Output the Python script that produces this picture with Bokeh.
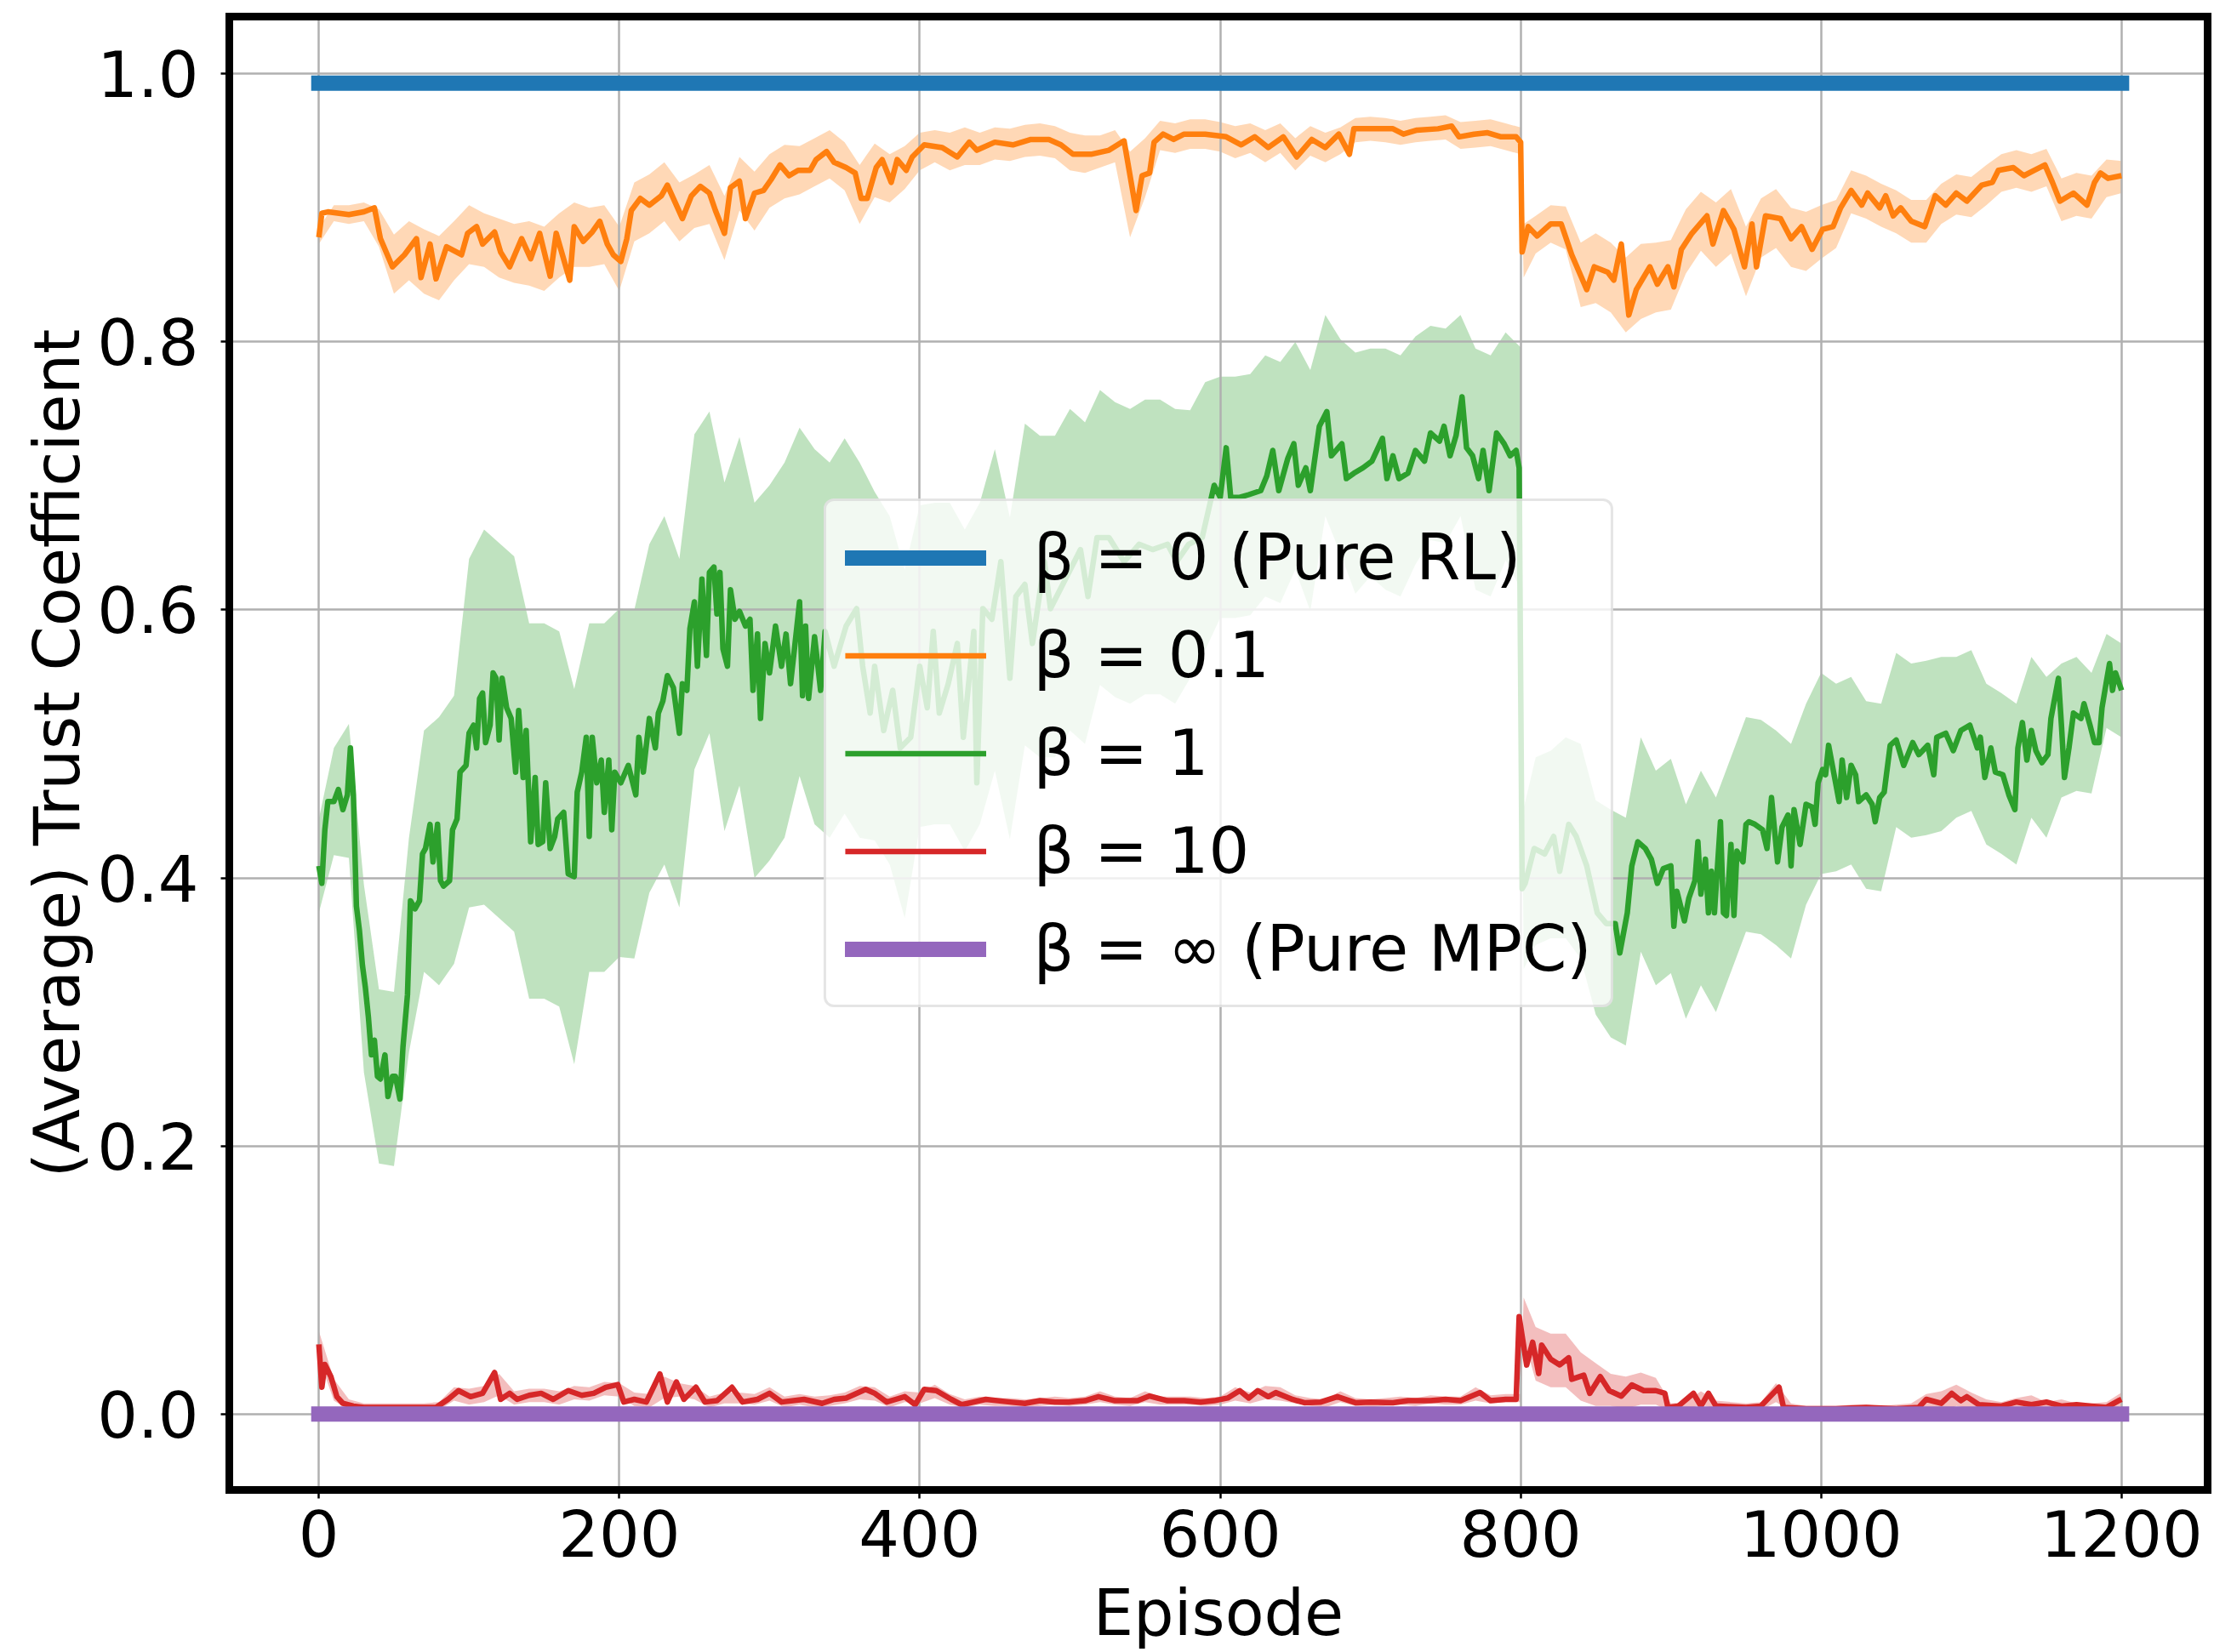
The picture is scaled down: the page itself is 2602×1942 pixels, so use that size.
import numpy as np
from bokeh.plotting import figure
from bokeh.models import (Range1d, Legend, LegendItem, PrintfTickFormatter,
                          FixedTicker, LinearAxis)
from bokeh.embed import file_html
from bokeh.resources import INLINE

# ---------------- data ----------------
x_ticks = [0, 200, 400, 600, 800, 1000, 1200]
y_ticks = [0.0, 0.2, 0.4, 0.6, 0.8, 1.0]

labels = ["β = 0 (Pure RL)", "β = 0.1", "β = 1", "β = 10", "β = ∞ (Pure MPC)"]
x_label = "Episode"
y_label = "(Average) Trust Coefficient"

rl_episodes = [0, 1200]
rl_values = [0.993, 0.993]
mpc_episodes = [0, 1200]
mpc_values = [0.0, 0.0]

# mean curves (episode, value)
beta01_ep = [
    0, 2, 6, 20, 30, 37, 41, 49, 57, 65, 68, 74, 78, 85, 95, 99, 105, 109, 117, 121,
    127, 135, 141, 147, 154, 158, 167, 170, 176, 182, 187, 192, 196, 201, 205, 208,
    214, 220, 228, 232, 238, 242, 248, 254, 260, 264, 270, 274, 280, 284, 290, 296,
    301, 307, 313, 319, 327, 331, 338, 343, 351, 357, 361, 365, 371, 375, 381, 385,
    391, 395, 403, 415, 425, 433, 438, 450, 462, 474, 486, 494, 502, 514, 526, 536,
    544, 548, 553, 556, 562, 569, 576, 590, 604, 614, 623, 632, 642, 651, 661, 670,
    679, 686, 689, 703, 715, 722, 731, 745, 754, 759, 769, 778, 787, 797, 800, 801,
    805, 811, 820, 827, 834, 839, 844, 849, 858, 862, 867, 872, 877, 886, 891, 898,
    902, 907, 914, 924, 928, 935, 942, 949, 954, 957, 963, 973, 980, 987, 994, 1001,
    1008, 1013, 1020, 1027, 1031, 1039, 1043, 1048, 1053, 1060, 1069, 1076, 1083,
    1090, 1097, 1107, 1114, 1118, 1128, 1135, 1142, 1149, 1154, 1159, 1168, 1177,
    1182, 1186, 1191, 1200,
]
beta01_line = [
    0.878, 0.896, 0.897, 0.895, 0.897, 0.900, 0.877, 0.856, 0.865, 0.877, 0.848, 0.873,
    0.847, 0.871, 0.865, 0.881, 0.886, 0.873, 0.882, 0.867, 0.856, 0.877, 0.862, 0.881,
    0.849, 0.881, 0.846, 0.886, 0.875, 0.882, 0.890, 0.873, 0.865, 0.860, 0.877, 0.898,
    0.907, 0.902, 0.909, 0.917, 0.902, 0.892, 0.909, 0.916, 0.911, 0.898, 0.881, 0.915,
    0.920, 0.892, 0.911, 0.913, 0.921, 0.932, 0.924, 0.928, 0.928, 0.936, 0.942, 0.934,
    0.930, 0.926, 0.907, 0.907, 0.930, 0.936, 0.919, 0.936, 0.928, 0.938, 0.947, 0.945,
    0.938, 0.949, 0.943, 0.949, 0.947, 0.951, 0.951, 0.947, 0.940, 0.940, 0.943, 0.950,
    0.898, 0.924, 0.926, 0.949, 0.955, 0.951, 0.955, 0.955, 0.953, 0.947, 0.953, 0.945,
    0.953, 0.938, 0.951, 0.945, 0.955, 0.940, 0.959, 0.959, 0.959, 0.955, 0.958, 0.959,
    0.961, 0.953, 0.955, 0.956, 0.953, 0.953, 0.949, 0.867, 0.886, 0.879, 0.888, 0.888,
    0.865, 0.852, 0.839, 0.856, 0.852, 0.846, 0.873, 0.820, 0.839, 0.856, 0.843, 0.856,
    0.841, 0.869, 0.881, 0.894, 0.873, 0.898, 0.884, 0.856, 0.888, 0.856, 0.894, 0.892,
    0.877, 0.886, 0.869, 0.884, 0.886, 0.900, 0.913, 0.902, 0.911, 0.900, 0.909, 0.894,
    0.900, 0.890, 0.886, 0.909, 0.902, 0.911, 0.905, 0.917, 0.919, 0.928, 0.930, 0.924,
    0.928, 0.932, 0.919, 0.905, 0.911, 0.902, 0.919, 0.926, 0.922, 0.924,
]

beta1_ep = [
    0, 2, 4, 6, 10, 13, 16, 19, 21, 23, 25, 27, 29, 31, 33, 35, 37, 39, 41, 44, 46, 49,
    51, 54, 56, 59, 61, 64, 67, 69, 71, 74, 76, 79, 81, 83, 87, 89, 92, 94, 98, 100,
    103, 105, 107, 109, 111, 114, 116, 118, 120, 122, 125, 128, 131, 133, 136, 138,
    141, 144, 146, 149, 151, 154, 157, 159, 163, 166, 170, 172, 175, 178, 180, 182,
    185, 188, 190, 193, 195, 197, 201, 206, 211, 213, 216, 220, 224, 226, 229, 232,
    236, 240, 242, 245, 247, 250, 252, 255, 258, 260, 263, 265, 267, 269, 272, 274,
    277, 280, 284, 287, 289, 292, 294, 297, 300, 304, 308, 311, 314, 317, 320, 322,
    324, 326, 330, 334, 337, 343, 351, 358, 362, 367, 370, 376, 382, 387, 394, 400,
    405, 409, 413, 419, 425, 429, 436, 438, 442, 448, 454, 460, 464, 470, 475, 483,
    487, 497, 507, 512, 518, 526, 536, 546, 555, 565, 571, 579, 588, 596, 600, 604,
    607, 613, 619, 627, 631, 635, 639, 645, 649, 652, 657, 660, 666, 671, 674, 681,
    684, 689, 695, 701, 708, 711, 715, 719, 725, 730, 736, 740, 746, 749, 753, 757,
    761, 764, 768, 772, 775, 779, 784, 789, 793, 797, 799, 801, 803, 809, 816, 822,
    826, 832, 837, 844, 851, 857, 863, 866, 871, 874, 878, 883, 887, 891, 895, 900,
    902, 904, 909, 912, 916, 918, 920, 923, 925, 927, 929, 933, 935, 937, 940, 942,
    944, 948, 950, 952, 956, 961, 964, 967, 971, 974, 978, 980, 982, 986, 990, 994,
    996, 998, 1001, 1003, 1005, 1008, 1012, 1014, 1017, 1020, 1023, 1025, 1030, 1034,
    1036, 1039, 1042, 1046, 1050, 1055, 1061, 1065, 1071, 1075, 1077, 1083, 1088,
    1093, 1099, 1104, 1106, 1109, 1113, 1116, 1121, 1125, 1129, 1131, 1134, 1137,
    1140, 1143, 1147, 1151, 1153, 1158, 1160, 1162, 1165, 1168, 1173, 1175, 1179,
    1182, 1185, 1187, 1190, 1192, 1194, 1196, 1200,
]
beta1_line = [
    0.409, 0.396, 0.436, 0.457, 0.457, 0.466, 0.451, 0.462, 0.497, 0.462, 0.379, 0.361,
    0.335, 0.318, 0.296, 0.268, 0.279, 0.252, 0.250, 0.268, 0.237, 0.252, 0.252, 0.235,
    0.274, 0.313, 0.383, 0.377, 0.383, 0.418, 0.422, 0.440, 0.412, 0.440, 0.398, 0.394,
    0.398, 0.436, 0.444, 0.479, 0.484, 0.508, 0.514, 0.497, 0.534, 0.538, 0.501, 0.514,
    0.553, 0.549, 0.503, 0.549, 0.527, 0.519, 0.479, 0.525, 0.475, 0.510, 0.427, 0.475,
    0.425, 0.427, 0.471, 0.422, 0.431, 0.444, 0.449, 0.403, 0.401, 0.464, 0.479, 0.505,
    0.431, 0.505, 0.471, 0.488, 0.449, 0.488, 0.436, 0.479, 0.471, 0.484, 0.462, 0.505,
    0.479, 0.519, 0.497, 0.523, 0.532, 0.551, 0.542, 0.508, 0.545, 0.540, 0.586, 0.606,
    0.558, 0.623, 0.566, 0.628, 0.632, 0.597, 0.628, 0.571, 0.558, 0.615, 0.593, 0.599,
    0.588, 0.593, 0.540, 0.582, 0.519, 0.575, 0.553, 0.588, 0.558, 0.582, 0.545, 0.575,
    0.606, 0.536, 0.588, 0.534, 0.580, 0.540, 0.584, 0.558, 0.588, 0.601, 0.558, 0.523,
    0.558, 0.510, 0.540, 0.497, 0.505, 0.558, 0.527, 0.584, 0.523, 0.545, 0.575, 0.505,
    0.584, 0.471, 0.601, 0.593, 0.636, 0.549, 0.610, 0.619, 0.575, 0.636, 0.601, 0.623,
    0.645, 0.610, 0.654, 0.654, 0.636, 0.649, 0.645, 0.649, 0.636, 0.649, 0.654, 0.693,
    0.684, 0.721, 0.684, 0.684, 0.686, 0.689, 0.700, 0.719, 0.689, 0.713, 0.724, 0.693,
    0.706, 0.689, 0.737, 0.748, 0.715, 0.724, 0.698, 0.702, 0.706, 0.711, 0.728, 0.698,
    0.715, 0.698, 0.702, 0.719, 0.711, 0.732, 0.726, 0.737, 0.715, 0.730, 0.759, 0.721,
    0.715, 0.698, 0.719, 0.689, 0.732, 0.724, 0.715, 0.719, 0.706, 0.392, 0.396, 0.422,
    0.418, 0.431, 0.405, 0.440, 0.431, 0.409, 0.374, 0.366, 0.366, 0.344, 0.374, 0.409,
    0.427, 0.422, 0.414, 0.396, 0.407, 0.409, 0.364, 0.390, 0.368, 0.385, 0.398, 0.427,
    0.388, 0.414, 0.374, 0.405, 0.374, 0.442, 0.374, 0.372, 0.425, 0.372, 0.420, 0.412,
    0.440, 0.442, 0.440, 0.436, 0.422, 0.460, 0.412, 0.438, 0.447, 0.409, 0.451, 0.425,
    0.455, 0.453, 0.440, 0.471, 0.481, 0.477, 0.499, 0.481, 0.457, 0.488, 0.460, 0.484,
    0.477, 0.457, 0.462, 0.455, 0.442, 0.460, 0.464, 0.499, 0.503, 0.484, 0.501, 0.492,
    0.499, 0.477, 0.505, 0.508, 0.495, 0.510, 0.514, 0.497, 0.505, 0.475, 0.497, 0.479,
    0.477, 0.462, 0.451, 0.497, 0.516, 0.488, 0.510, 0.495, 0.486, 0.492, 0.519, 0.549,
    0.514, 0.475, 0.497, 0.523, 0.519, 0.530, 0.514, 0.501, 0.501, 0.527, 0.547, 0.560,
    0.540, 0.553, 0.540,
]

beta10_ep = [
    0, 2, 4, 8, 12, 16, 23, 30, 50, 70, 78, 86, 93, 101, 109, 117, 121, 127, 132, 140,
    148, 156, 166, 175, 183, 191, 199, 203, 210, 218, 227, 232, 238, 243, 251, 257,
    265, 275, 282, 292, 300, 308, 323, 335, 343, 351, 364, 370, 378, 384, 390, 397,
    403, 411, 421, 428, 436, 444, 460, 470, 480, 490, 499, 510, 519, 530, 545, 553,
    565, 576, 587, 596, 605, 613, 619, 625, 632, 637, 648, 656, 667, 678, 690, 700,
    715, 725, 740, 750, 760, 773, 780, 790, 797, 799, 804, 808, 812, 814, 820, 826,
    832, 834, 842, 846, 853, 859, 867, 874, 882, 890, 896, 898, 905, 915, 920, 925,
    930, 950, 960, 972, 975, 990, 1010, 1030, 1050, 1065, 1070, 1080, 1087, 1093,
    1097, 1105, 1120, 1130, 1140, 1150, 1160, 1170, 1180, 1190, 1198, 1200,
]
beta10_line = [
    0.052, 0.020, 0.037, 0.028, 0.013, 0.008, 0.006, 0.005, 0.005, 0.005, 0.005, 0.011,
    0.0175, 0.013, 0.0155, 0.031, 0.011, 0.0155, 0.011, 0.014, 0.0155, 0.011, 0.0175,
    0.014, 0.0155, 0.020, 0.022, 0.009, 0.011, 0.009, 0.030, 0.009, 0.024, 0.011,
    0.020, 0.009, 0.010, 0.020, 0.009, 0.011, 0.0155, 0.009, 0.011, 0.008, 0.011,
    0.012, 0.0185, 0.0155, 0.009, 0.011, 0.013, 0.007, 0.0185, 0.0175, 0.011, 0.007,
    0.009, 0.011, 0.009, 0.008, 0.010, 0.009, 0.009, 0.010, 0.013, 0.010, 0.010,
    0.0135, 0.010, 0.010, 0.009, 0.010, 0.012, 0.0175, 0.012, 0.0175, 0.013, 0.016,
    0.011, 0.0085, 0.009, 0.013, 0.0085, 0.009, 0.0085, 0.010, 0.010, 0.011, 0.010,
    0.016, 0.010, 0.011, 0.011, 0.0727, 0.0366, 0.0536, 0.0303, 0.0515, 0.041, 0.0367,
    0.042, 0.026, 0.029, 0.0155, 0.028, 0.0175, 0.0134, 0.0218, 0.0175, 0.0175, 0.0155,
    0.005, 0.006, 0.0155, 0.006, 0.0155, 0.006, 0.005, 0.006, 0.020, 0.005, 0.004,
    0.004, 0.005, 0.004, 0.005, 0.011, 0.008, 0.0155, 0.010, 0.013, 0.007, 0.006,
    0.009, 0.007, 0.009, 0.006, 0.007, 0.006, 0.005, 0.010, 0.011,
]

# shaded bands: centre and half-width, read every 10 episodes
band_episodes = list(range(0, 801, 10)) + [802] + list(range(810, 1201, 10))

beta01_band_mid = [
    0.879, 0.896, 0.895, 0.897, 0.885, 0.858, 0.868, 0.860, 0.855, 0.868,
    0.880, 0.876, 0.870, 0.866, 0.866, 0.862, 0.872, 0.880, 0.878, 0.880,
    0.862, 0.897, 0.903, 0.912, 0.897, 0.905, 0.910, 0.885, 0.918, 0.905,
    0.920, 0.927, 0.928, 0.934, 0.940, 0.931, 0.910, 0.928, 0.922, 0.930,
    0.942, 0.946, 0.942, 0.946, 0.944, 0.948, 0.947, 0.950, 0.951, 0.949,
    0.942, 0.940, 0.942, 0.946, 0.910, 0.930, 0.954, 0.952, 0.955, 0.955,
    0.953, 0.949, 0.952, 0.946, 0.952, 0.940, 0.950, 0.945, 0.950, 0.958,
    0.959, 0.958, 0.956, 0.958, 0.959, 0.960, 0.954, 0.955, 0.956, 0.953,
    0.950,
    0.868,
    0.880, 0.888, 0.885, 0.850, 0.855, 0.848, 0.835, 0.845, 0.848, 0.850,
    0.875, 0.890, 0.880, 0.890, 0.860, 0.885, 0.892, 0.878, 0.875, 0.882,
    0.888, 0.912, 0.908, 0.902, 0.897, 0.890, 0.890, 0.903, 0.910, 0.908,
    0.917, 0.926, 0.929, 0.926, 0.930, 0.906, 0.910, 0.908, 0.922, 0.923,
]
beta01_band_std = [
    0.006, 0.006, 0.007, 0.007, 0.014, 0.022, 0.022, 0.024, 0.024, 0.022,
    0.022, 0.020, 0.022, 0.022, 0.024, 0.024, 0.024, 0.024, 0.022, 0.022,
    0.024, 0.022, 0.022, 0.022, 0.022, 0.020, 0.022, 0.024, 0.020, 0.022,
    0.020, 0.020, 0.018, 0.018, 0.018, 0.018, 0.022, 0.020, 0.018, 0.016,
    0.014, 0.012, 0.014, 0.014, 0.012, 0.012, 0.012, 0.012, 0.012, 0.012,
    0.014, 0.014, 0.012, 0.012, 0.032, 0.022, 0.011, 0.011, 0.011, 0.011,
    0.011, 0.012, 0.011, 0.012, 0.011, 0.012, 0.011, 0.011, 0.010, 0.009,
    0.009, 0.009, 0.009, 0.009, 0.009, 0.009, 0.010, 0.010, 0.010, 0.010,
    0.010,
    0.020,
    0.014, 0.014, 0.016, 0.024, 0.026, 0.026, 0.028, 0.028, 0.026, 0.026,
    0.024, 0.022, 0.024, 0.024, 0.026, 0.022, 0.022, 0.022, 0.022, 0.020,
    0.018, 0.016, 0.016, 0.016, 0.016, 0.016, 0.016, 0.015, 0.015, 0.015,
    0.015, 0.014, 0.014, 0.014, 0.014, 0.016, 0.016, 0.016, 0.014, 0.012,
]

beta1_band_mid = [
    0.409, 0.457, 0.465, 0.325, 0.252, 0.250, 0.350, 0.420, 0.420, 0.436,
    0.508, 0.520, 0.510, 0.500, 0.450, 0.450, 0.444, 0.401, 0.460, 0.460,
    0.471, 0.470, 0.519, 0.540, 0.508, 0.606, 0.628, 0.565, 0.599, 0.540,
    0.553, 0.570, 0.606, 0.580, 0.570, 0.588, 0.570, 0.558, 0.540, 0.500,
    0.558, 0.560, 0.560, 0.540, 0.560, 0.600, 0.549, 0.619, 0.610, 0.610,
    0.630, 0.620, 0.654, 0.645, 0.640, 0.647, 0.647, 0.640, 0.649, 0.670,
    0.684, 0.684, 0.686, 0.700, 0.695, 0.715, 0.689, 0.745, 0.722, 0.702,
    0.710, 0.705, 0.700, 0.719, 0.732, 0.730, 0.745, 0.705, 0.700, 0.722,
    0.706,
    0.392,
    0.420, 0.425, 0.430, 0.420, 0.378, 0.366, 0.360, 0.425, 0.400, 0.409,
    0.375, 0.400, 0.380, 0.410, 0.440, 0.438, 0.430, 0.420, 0.455, 0.478,
    0.475, 0.480, 0.462, 0.460, 0.503, 0.495, 0.497, 0.500, 0.505, 0.510,
    0.485, 0.478, 0.470, 0.505, 0.490, 0.510, 0.515, 0.508, 0.547, 0.540,
]
beta1_band_std = [
    0.035, 0.040, 0.050, 0.070, 0.065, 0.065, 0.080, 0.090, 0.100, 0.100,
    0.130, 0.140, 0.140, 0.140, 0.140, 0.140, 0.140, 0.140, 0.130, 0.130,
    0.130, 0.130, 0.130, 0.130, 0.130, 0.125, 0.120, 0.130, 0.130, 0.140,
    0.140, 0.140, 0.130, 0.140, 0.140, 0.140, 0.140, 0.130, 0.130, 0.130,
    0.120, 0.120, 0.120, 0.120, 0.120, 0.120, 0.120, 0.120, 0.120, 0.120,
    0.120, 0.120, 0.110, 0.110, 0.110, 0.110, 0.110, 0.110, 0.100, 0.100,
    0.090, 0.090, 0.090, 0.090, 0.090, 0.085, 0.090, 0.075, 0.080, 0.090,
    0.085, 0.090, 0.090, 0.085, 0.080, 0.080, 0.075, 0.090, 0.090, 0.085,
    0.090,
    0.060,
    0.070, 0.070, 0.075, 0.080, 0.080, 0.085, 0.085, 0.080, 0.080, 0.080,
    0.080, 0.080, 0.080, 0.080, 0.080, 0.080, 0.080, 0.080, 0.075, 0.075,
    0.070, 0.070, 0.070, 0.070, 0.065, 0.065, 0.065, 0.065, 0.060, 0.060,
    0.060, 0.060, 0.060, 0.060, 0.060, 0.050, 0.050, 0.045, 0.035, 0.035,
]

beta10_band_mid = [
    0.052, 0.018, 0.007, 0.005, 0.005, 0.005, 0.005, 0.005, 0.006, 0.015,
    0.013, 0.015, 0.022, 0.012, 0.014, 0.014, 0.012, 0.016, 0.015, 0.019,
    0.018, 0.011, 0.010, 0.020, 0.018, 0.016, 0.009, 0.012, 0.012, 0.011,
    0.015, 0.009, 0.011, 0.009, 0.010, 0.012, 0.016, 0.015, 0.009, 0.013,
    0.012, 0.017, 0.011, 0.008, 0.010, 0.009, 0.009, 0.008, 0.009, 0.010,
    0.009, 0.010, 0.013, 0.010, 0.009, 0.013, 0.010, 0.010, 0.010, 0.009,
    0.010, 0.015, 0.012, 0.016, 0.015, 0.011, 0.009, 0.008, 0.013, 0.009,
    0.008, 0.009, 0.010, 0.009, 0.011, 0.010, 0.010, 0.015, 0.011, 0.012,
    0.012,
    0.072,
    0.045, 0.040, 0.040, 0.028, 0.022, 0.018, 0.016, 0.019, 0.017, 0.005,
    0.006, 0.012, 0.007, 0.006, 0.005, 0.006, 0.016, 0.005, 0.004, 0.004,
    0.004, 0.005, 0.005, 0.004, 0.005, 0.005, 0.010, 0.009, 0.014, 0.010,
    0.007, 0.006, 0.008, 0.010, 0.006, 0.008, 0.005, 0.005, 0.006, 0.011,
]
beta10_band_std = [
    0.010, 0.008, 0.004, 0.003, 0.003, 0.003, 0.003, 0.003, 0.003, 0.005,
    0.006, 0.006, 0.008, 0.005, 0.005, 0.005, 0.005, 0.005, 0.005, 0.005,
    0.005, 0.005, 0.005, 0.008, 0.005, 0.005, 0.004, 0.004, 0.004, 0.004,
    0.005, 0.004, 0.004, 0.004, 0.004, 0.004, 0.005, 0.005, 0.004, 0.004,
    0.004, 0.005, 0.004, 0.003, 0.003, 0.003, 0.003, 0.003, 0.003, 0.003,
    0.003, 0.003, 0.004, 0.003, 0.003, 0.004, 0.003, 0.003, 0.003, 0.003,
    0.003, 0.005, 0.004, 0.005, 0.005, 0.003, 0.003, 0.003, 0.004, 0.003,
    0.003, 0.003, 0.003, 0.003, 0.003, 0.003, 0.003, 0.005, 0.003, 0.003,
    0.003,
    0.015,
    0.020, 0.020, 0.020, 0.018, 0.016, 0.012, 0.012, 0.012, 0.010, 0.003,
    0.003, 0.005, 0.003, 0.003, 0.003, 0.003, 0.007, 0.003, 0.002, 0.002,
    0.002, 0.002, 0.002, 0.002, 0.002, 0.003, 0.005, 0.008, 0.008, 0.006,
    0.004, 0.003, 0.004, 0.004, 0.003, 0.003, 0.003, 0.003, 0.003, 0.005,
]

# ---------------- figure ----------------
FONT = "DejaVu Sans"
FS = "75px"
X0, X1 = -59.6, 1257.3
Y0, Y1 = -0.0566, 1.0427

p = figure(width=2602, height=1942, output_backend="svg", toolbar_location=None,
           x_range=Range1d(X0, X1), y_range=Range1d(Y0, Y1),
           min_border_left=269, min_border_right=8, min_border_top=19,
           min_border_bottom=190)
p.background_fill_color = "white"
p.border_fill_color = "white"
p.outline_line_color = "black"
p.outline_line_width = 9
p.outline_line_alpha = 1.0

p.xaxis.ticker = FixedTicker(ticks=x_ticks)
p.yaxis.ticker = FixedTicker(ticks=y_ticks)
p.yaxis.formatter = PrintfTickFormatter(format="%.1f")
p.xaxis.axis_label = x_label
p.yaxis.axis_label = y_label
for ax in (p.xaxis, p.yaxis):
    ax.axis_line_color = "black"
    ax.axis_line_width = 9
    ax.axis_line_cap = "square"
    ax.major_tick_out = 10
    ax.major_tick_in = 0
    ax.minor_tick_out = 0
    ax.minor_tick_in = 0
    ax.major_tick_line_color = "black"
    ax.major_tick_line_width = 2.5
    ax.major_label_text_font = FONT
    ax.major_label_text_font_size = FS
    ax.major_label_text_color = "black"
    ax.axis_label_text_font = FONT
    ax.axis_label_text_font_size = FS
    ax.axis_label_text_font_style = "normal"
    ax.axis_label_text_color = "black"
p.xaxis.major_label_standoff = 13
p.xaxis.axis_label_standoff = 19
p.yaxis.major_label_standoff = 26
p.yaxis.axis_label_standoff = 0

for side in ("right", "above"):
    spine = LinearAxis(ticker=FixedTicker(ticks=[]), axis_line_color="black",
                       axis_line_width=9, axis_line_cap="square",
                       major_tick_out=0, major_tick_in=0, minor_tick_out=0,
                       minor_tick_in=0, major_label_text_font_size="0px")
    p.add_layout(spine, side)

p.grid.grid_line_color = "#b0b0b0"
p.grid.grid_line_width = 2.5

bep = np.array(band_episodes)

def band(mid, std, color):
    m = np.array(mid)
    s = np.array(std)
    r = p.varea(x=bep, y1=m - s, y2=m + s, fill_color=color, fill_alpha=0.3)
    r.level = "image"
    return r

r_rl = p.line(rl_episodes, rl_values, line_color="#1f77b4", line_width=18, line_cap="square")
band(beta01_band_mid, beta01_band_std, "#ff7f0e")
r_01 = p.line(beta01_ep, beta01_line, line_color="#ff7f0e", line_width=6.5, line_join="round")
band(beta1_band_mid, beta1_band_std, "#2ca02c")
r_1 = p.line(beta1_ep, beta1_line, line_color="#2ca02c", line_width=6.5, line_join="round")
band(beta10_band_mid, beta10_band_std, "#d62728")
r_10 = p.line(beta10_ep, beta10_line, line_color="#d62728", line_width=6.5, line_join="round")
r_mpc = p.line(mpc_episodes, mpc_values, line_color="#9467bd", line_width=18, line_cap="square")

legend = Legend(items=[
    LegendItem(label=labels[0], renderers=[r_rl]),
    LegendItem(label=labels[1], renderers=[r_01]),
    LegendItem(label=labels[2], renderers=[r_1]),
    LegendItem(label=labels[3], renderers=[r_10]),
    LegendItem(label=labels[4], renderers=[r_mpc]),
], location="center")
legend.label_text_font = FONT
legend.label_text_font_size = FS
legend.label_text_color = "black"
legend.glyph_width = 166
legend.glyph_height = 87
legend.label_height = 87
legend.label_standoff = 56
legend.spacing = 27
legend.padding = 22
legend.margin = 0
legend.background_fill_color = "white"
legend.background_fill_alpha = 0.8
legend.border_line_color = "#cccccc"
legend.border_line_width = 3
if "border_radius" in legend.properties():
    legend.border_radius = 12
p.add_layout(legend, "center")

open("out.html", "w").write(file_html(p, INLINE))
